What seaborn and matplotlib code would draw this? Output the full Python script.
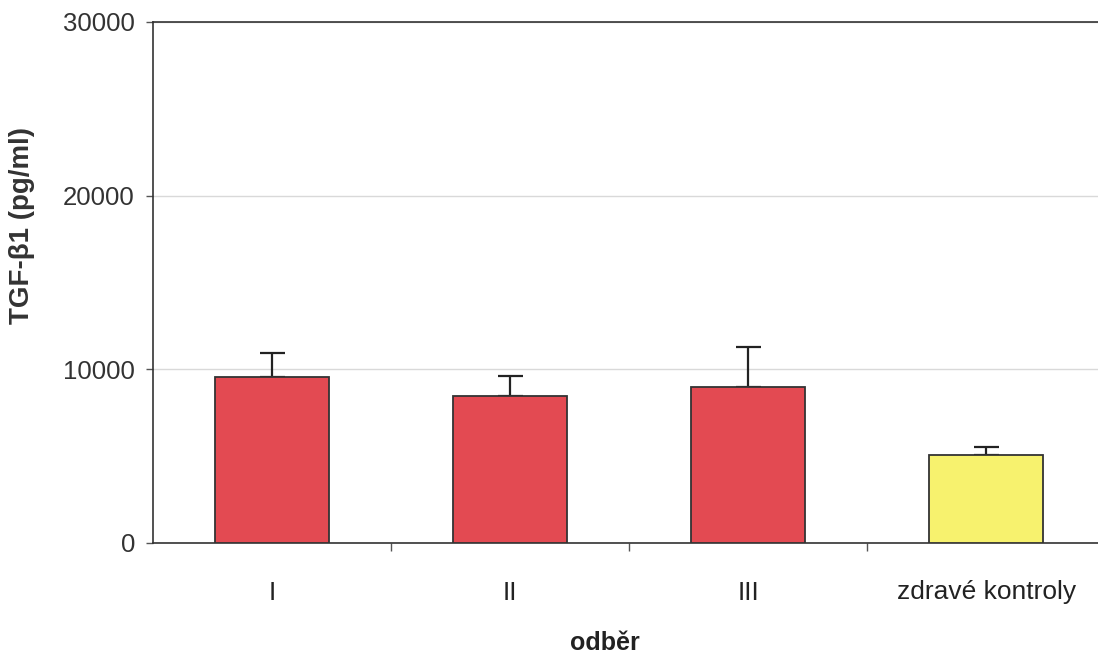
import matplotlib
matplotlib.use("Agg")
import matplotlib.pyplot as plt
import seaborn as sns
import pandas as pd

# values
odber = ["I", "II", "III", "zdravé kontroly"]
tgf_mean = [9530, 8490, 8970, 5070]
tgf_sd = [1400, 1140, 2340, 480]
bar_colors = ["#e34a52", "#e34a52", "#e34a52", "#f7f26e"]
y_ticks = [0, 10000, 20000, 30000]

sns.set_style("white")
plt.rcParams["font.family"] = ["Liberation Sans", "DejaVu Sans"]

df = pd.DataFrame({"odber": odber, "tgf": tgf_mean})

fig = plt.figure(figsize=(10.98, 6.55), dpi=100)
ax = fig.add_axes([153 / 1098, 1 - 543 / 655, 945 / 1098, 521 / 655])

sns.barplot(data=df, x="odber", y="tgf", hue="odber", palette=bar_colors,
            saturation=1, width=0.48, edgecolor="#333333", linewidth=1.3,
            legend=False, ax=ax, zorder=3)
ax.errorbar(x=list(range(len(odber))), y=tgf_mean,
            yerr=[[0] * len(odber), tgf_sd], fmt="none", ecolor="#222222",
            elinewidth=1.6, capsize=9, capthick=1.6, zorder=2)

ax.set_xlim(-0.5, 3.47)
ax.set_ylim(0, 30000)
ax.set_yticks(y_ticks)
ax.set_yticklabels([str(v) for v in y_ticks])
ax.yaxis.grid(True, color="#d9d9d9", linewidth=1)
ax.set_axisbelow(True)

for side in ["left", "top", "bottom"]:
    ax.spines[side].set_visible(True)
    ax.spines[side].set_color("#333333")
    ax.spines[side].set_linewidth(1.2)
ax.spines["right"].set_visible(False)

# category separators as minor ticks
ax.set_xticks([0.5, 1.5, 2.5], minor=True)
ax.tick_params(axis="x", which="major", length=0, pad=27, labelsize=19,
               labelcolor="#222222")
ax.tick_params(axis="x", which="minor", bottom=True, length=6, width=1,
               direction="out", color="#555555")
ax.tick_params(axis="y", left=True, length=5, width=1, direction="out",
               pad=8, labelsize=18.5, labelcolor="#333333", color="#555555")

ax.set_xlabel("odběr", fontsize=18, fontweight="bold", color="#222222")
ax.set_ylabel("TGF-β1 (pg/ml)", fontsize=20, fontweight="bold", color="#333333")
ax.xaxis.set_label_coords(0.478, -0.168)
ax.yaxis.set_label_coords(-0.125, 0.61)

fig.savefig("out.png", dpi=100)
